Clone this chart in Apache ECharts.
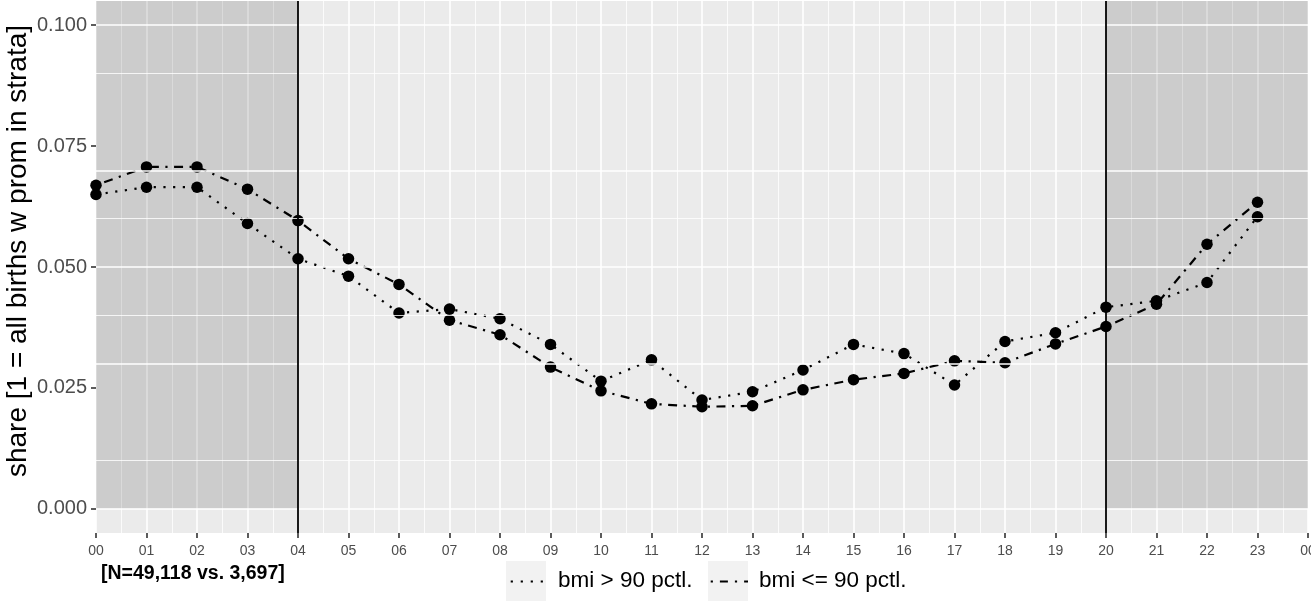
<!DOCTYPE html>
<html>
<head>
<meta charset="utf-8">
<script src="https://cdn.jsdelivr.net/npm/echarts@6/dist/echarts.min.js"></script>
<style>html,body{margin:0;padding:0;background:#fff}#c{width:1311px;height:601px}</style>
</head>
<body>
<div id="c"></div>
<script>
// ---- data ----
const hours = [0,1,2,3,4,5,6,7,8,9,10,11,12,13,14,15,16,17,18,19,20,21,22,23];
const bmiHigh = [0.0650,0.0665,0.0665,0.0590,0.0517,0.0481,0.0405,0.0413,0.0393,0.0340,0.0264,0.0308,
                 0.0225,0.0242,0.0287,0.0340,0.0321,0.0256,0.0346,0.0364,0.0417,0.0430,0.0468,0.0604];
const bmiLow  = [0.0669,0.0707,0.0707,0.0661,0.0596,0.0517,0.0464,0.0390,0.0360,0.0293,0.0244,0.0217,
                 0.0211,0.0213,0.0246,0.0267,0.0280,0.0306,0.0302,0.0341,0.0377,0.0423,0.0547,0.0634];
const seriesNames = ['bmi > 90 pctl.', 'bmi <= 90 pctl.'];
const yTicks = [0, 0.025, 0.05, 0.075, 0.1];
const yMinorTicks = [0.0125, 0.0375, 0.0625, 0.0875];
const shadedRanges = [[0, 4], [20, 24]];
const vLines = [4, 20];
const xRange = [0, 24];
const yRange = [-0.005, 0.105];
const yTitle = 'share [1 = all births w prom in strata]';
const xTitle = '[N=49,118 vs. 3,697]';

const FONT = 'Liberation Sans, Arial, Helvetica, sans-serif';
const chart = echarts.init(document.getElementById('c'), null, {renderer: 'canvas'});

const pair = (a, b) => a.map((v, i) => [v, b[i]]);

const option = {
  animation: false,
  backgroundColor: '#ffffff',
  grid: {
    left: 96, right: 3, top: 1, bottom: 68,
    containLabel: false, outerBoundsMode: 'none',
    show: true, backgroundColor: '#EBEBEB', borderWidth: 0
  },
  xAxis: {
    type: 'value', min: xRange[0], max: xRange[1], interval: 1,
    axisLine: {show: false, onZero: false},
    axisTick: {show: true, length: 5, lineStyle: {color: '#333333', width: 1.6}},
    axisLabel: {
      color: '#4D4D4D', fontSize: 14, fontFamily: FONT, margin: 11,
      formatter: v => String(v % 24).padStart(2, '0')
    },
    splitLine: {show: true, lineStyle: {color: '#FFFFFF', width: 1.6}},
    minorTick: {show: false, splitNumber: 2},
    minorSplitLine: {show: true, lineStyle: {color: '#FFFFFF', width: 0.8}}
  },
  yAxis: {
    type: 'value', min: yRange[0], max: yRange[1],
    axisLine: {show: false, onZero: false},
    axisTick: {show: true, length: 5, customValues: yTicks, lineStyle: {color: '#333333', width: 1.6}},
    axisLabel: {
      customValues: yTicks, color: '#4D4D4D', fontSize: 20, fontFamily: FONT, margin: 9,
      formatter: v => v.toFixed(3)
    },
    splitLine: {show: false}
  },
  title: {
    text: xTitle, left: 96, top: 559,
    textStyle: {fontSize: 19.5, fontWeight: 'bold', color: '#000000', fontFamily: FONT}
  },
  series: [
    {
      type: 'line', data: [], z: 1, silent: true,
      markLine: {
        silent: true, symbol: ['none', 'none'], label: {show: false},
        animation: false,
        data: yTicks.map(v => ({yAxis: v, lineStyle: {color: '#FFFFFF', width: 1.6, type: 'solid'}}))
          .concat(yMinorTicks.map(v => ({yAxis: v, lineStyle: {color: '#FFFFFF', width: 0.8, type: 'solid'}})))
      }
    },
    {
      type: 'line', data: [], z: 2, silent: true,
      markArea: {
        silent: true,
        itemStyle: {color: 'rgba(0,0,0,0.13)'},
        data: shadedRanges.map(r => [{xAxis: r[0], yAxis: 0}, {xAxis: r[1], yAxis: yRange[1]}])
      },
      markLine: {
        silent: true, symbol: ['none', 'none'], label: {show: false},
        data: vLines.map(v => ({xAxis: v, lineStyle: {color: '#000000', width: 1.8, type: 'solid'}}))
      }
    },
    {
      name: seriesNames[0], type: 'line', z: 3,
      data: pair(hours, bmiHigh),
      symbol: 'circle', symbolSize: 11.5,
      itemStyle: {color: '#000000'},
      lineStyle: {color: '#000000', width: 2.2, type: [2.2, 7.5], cap: 'butt'}
    },
    {
      name: seriesNames[1], type: 'line', z: 3,
      data: pair(hours, bmiLow),
      symbol: 'circle', symbolSize: 11.5,
      itemStyle: {color: '#000000'},
      lineStyle: {color: '#000000', width: 2.2, type: [2.2, 6.5, 9, 6.5], cap: 'butt'}
    }
  ],
  graphic: [
    {type: 'text', x: 18, y: 251, rotation: Math.PI / 2,
     style: {text: yTitle, fontSize: 28, fontFamily: FONT, fill: '#000', align: 'center', verticalAlign: 'middle'}, silent: true},
    {type: 'rect', left: 506, top: 561, shape: {width: 40, height: 40}, style: {fill: '#F2F2F2'}, silent: true},
    {type: 'line', shape: {x1: 510.7, y1: 581.5, x2: 546, y2: 581.5},
     style: {stroke: '#000', lineWidth: 2.2, lineDash: [2.2, 7.8]}, silent: true},
    {type: 'text', left: 558, top: 569, style: {text: seriesNames[0], fontSize: 22.5, fontFamily: FONT, fill: '#000'}, silent: true},
    {type: 'rect', left: 708, top: 561, shape: {width: 40, height: 40}, style: {fill: '#F2F2F2'}, silent: true},
    {type: 'line', shape: {x1: 710.7, y1: 581.5, x2: 748, y2: 581.5},
     style: {stroke: '#000', lineWidth: 2.2, lineDash: [2.2, 7, 8, 7]}, silent: true},
    {type: 'text', left: 759, top: 569, style: {text: seriesNames[1], fontSize: 22.5, fontFamily: FONT, fill: '#000'}, silent: true}
  ]
};
chart.setOption(option);
</script>
</body>
</html>
